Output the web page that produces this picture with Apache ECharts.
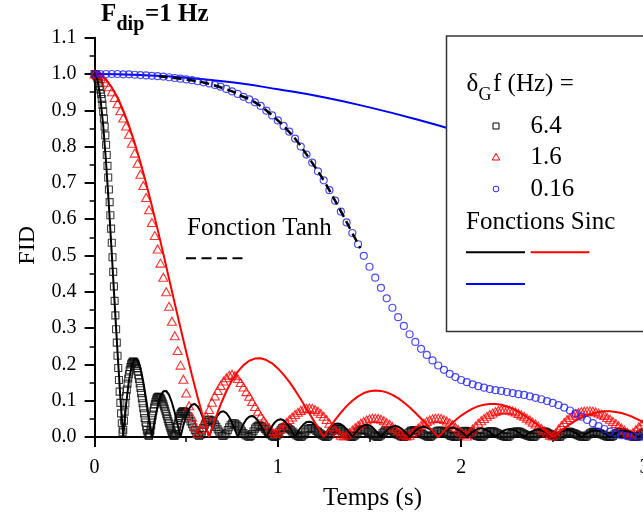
<!DOCTYPE html>
<html><head><meta charset="utf-8">
<script src="https://cdn.jsdelivr.net/npm/echarts@6/dist/echarts.min.js"></script>
<style>html,body{margin:0;padding:0;background:#fff}#c{width:643px;height:516px}</style>
</head><body><div id="c"></div>
<script>
// ---------- DATA ----------
const xTickLabels = ['0', '1', '2', '3'];
// black squares, dGf = 6.4 Hz : t = i/256 (0 .. 0.5 s)
const sq64Fine = [
1.000,.999,.997,.993,.988,.982,.975,.967,.957,.945,
.931,.915,.897,.877,.855,.831,.805,.777,.747,.715,
.682,.647,.611,.574,.535,.495,.455,.415,.375,.335,
.297,.260,.224,.190,.157,.125,.094,.065,.038,.013,
.020,.045,.070,.093,.113,.131,.147,.161,.173,.184,
.193,.200,.204,.207,.208,.207,.205,.201,.196,.189,
.181,.171,.160,.148,.135,.121,.107,.093,.079,.065,
.052,.040,.029,.019,.011,.005,.003,.008,.018,.032,
.046,.059,.071,.081,.090,.097,.103,.107,.110,.111,
.111,.110,.107,.104,.100,.095,.090,.084,.078,.071,
.064,.057,.050,.043,.037,.030,.024,.018,.013,.008,
.005,.003,.004,.008,.018,.028,.037,.045,.052,.058,
.063,.066,.069,.070,.071,.070,.069,.067,.064];
// black squares continued : t = 0.5 + (i+1)/128 (to 3 s)
const sq64Coarse = [
.058,.051,.043,.035,.027,.019,.012,.006,.003,.006,.015,.025,.034,.041,.046,.048,.047,.044,.040,.034,.028,.021,.015,.009,.004,.003,.007,
.010,.019,.027,.033,.037,.038,.037,.034,.030,.026,.021,.016,.011,.007,.004,.002,.000,.003,
.008,.016,.023,.028,.031,.032,.031,.029,.026,.022,.018,.013,.010,.006,.003,.001,.000,.003,
.007,.014,.020,.025,.027,.028,.027,.025,.022,.019,.015,.012,.008,.005,.003,.001,.000,.002,
.006,.013,.018,.022,.024,.025,.024,.023,.020,.017,.014,.011,.008,.005,.003,.001,.000,.002,
.006,.012,.017,.020,.022,.023,.022,.021,.018,.016,.013,.010,.007,.004,.002,.001,.000,.002,
.005,.011,.015,.018,.020,.021,.020,.019,.017,.014,.012,.009,.006,.004,.002,.001,.000,.002,
.005,.010,.014,.018,.019,.020,.019,.018,.016,.014,.011,.008,.006,.004,.002,.001,.000,.002,
.005,.010,.014,.017,.018,.019,.018,.017,.015,.013,.010,.008,.006,.004,.002,.001,.000,.002,
.005,.009,.013,.016,.017,.018,.017,.016,.014,.012,.010,.008,.005,.003,.002,.001,.000,.001,
.004,.009,.012,.015,.016,.017,.016,.015,.014,.012,.009,.007,.005,.003,.002,.001,.000,.001,
.004,.008,.012,.014,.016,.016,.016,.014,.013,.011,.009,.007,.005,.003,.002,.001,.000,.001,
.004,.008,.011,.013,.015,.015,.015,.014,.012,.010,.008,.006,.005,.003,.002,.001,.000,.001,
.004,.008,.011,.013,.015,.015,.015,.014,.012,.010,.008,.006,.005,.003,.002,.001,.000,.001,
.004,.007,.010,.012,.014,.014,.014,.013,.011,.010,.008,.006,.004,.003,.001,.001,.000,.001,
.004,.007,.010,.012,.014,.014,.014,.013,.011,.010,.008,.006,.004,.003,.001,.001,.000,.001,
.003,.007,.009,.011,.013,.013,.013,.012,.010,.009,.007,.005,.004,.002,.001,.001,.000,.001,
.003,.006,.009,.011,.012];
// red triangles, dGf = 1.6 Hz : t = i/64
const tri16 = [
1.000,.998,.994,.987,.977,.965,.951,.935,.918,.899,
.879,.857,.834,.809,.782,.754,.724,.693,.660,.626,
.591,.555,.518,.479,.440,.400,.360,.319,.279,.238,
.198,.159,.121,.086,.055,.030,.010,.020,.040,.057,
.076,.096,.113,.128,.142,.154,.163,.170,.173,.169,
.161,.150,.138,.125,.112,.098,.084,.071,.058,.046,
.035,.025,.016,.010,.012,.022,.031,.040,.048,.055,
.062,.068,.073,.077,.079,.080,.079,.076,.071,.065,
.057,.048,.038,.028,.019,.011,.005,.003,.006,.012,
.019,.026,.032,.038,.043,.047,.050,.052,.052,.051,
.049,.045,.040,.035,.029,.023,.017,.011,.006,.003,
.005,.011,.018,.025,.032,.038,.043,.047,.050,.052,
.052,.051,.048,.044,.039,.033,.027,.020,.013,.007,
.003,.013,.022,.030,.038,.045,.051,.057,.062,.066,
.070,.073,.075,.076,.075,.074,.072,.069,.065,.061,
.057,.052,.047,.041,.036,.030,.024,.017,.011,.005,
.003,.011,.022,.031,.040,.048,.054,.060,.064,.067,
.070,.071,.072,.072,.071,.069,.066,.063,.059,.054,
.049,.043,.037,.031,.025,.019,.013,.008,.012,.020,
.028,.035,.042];
// blue circles, dGf = 0.16 Hz : t = i/32
const circ016 = [
1.000,1.000,1.000,1.000,1.000,.999,.999,.998,.997,.996,
.995,.994,.993,.991,.989,.987,.985,.983,.980,.977,
.974,.970,.965,.959,.952,.945,.937,.930,.922,.912,
.899,.886,.872,.857,.841,.822,.800,.778,.756,.732,
.707,.680,.651,.621,.591,.562,.531,.499,.469,.439,
.411,.382,.356,.330,.306,.283,.262,.243,.226,.211,
.197,.185,.174,.165,.157,.151,.145,.140,.136,.132,
.129,.127,.124,.121,.118,.116,.112,.108,.104,.099,
.094,.088,.081,.073,.065,.056,.047,.038,.030,.022,
.015,.010,.005,.002,.001,.000,.000];
// Sinc curves
const sincBlack = [ // t = i/64
1,.984,.936,.858,.757,.637,.505,.368,.234,.109,
0,.089,.156,.198,.216,.212,.189,.152,.104,.052,
0,.047,.085,.112,.126,.127,.116,.095,.067,.034,
0,.032,.059,.078,.089,.091,.084,.070,.049,.025,
0,.024,.045,.060,.069,.071,.066,.055,.039,.020,
0,.019,.036,.049,.056,.058,.054,.045,.032,.017,
0,.016,.030,.041,.047,.049,.046,.038,.028,.014,
0,.014,.026,.035,.041,.042,.040,.033,.024,.013,
0,.012,.023,.031,.036,.037,.035,.030,.021,.011,
0,.011,.020,.028,.032,.034,.032,.027,.019,.010,
0,.010,.018,.025,.029,.030,.029,.024,.017,.009,
0,.009,.017,.023,.027,.028,.026,.022,.016,.008,
0,.008,.015,.021,.024,.026,.024,.020,.015,.008,
0,.008,.014,.019,.023,.024,.022,.019,.014,.007,
0,.007,.013,.018,.021,.022,.021,.018,.013,.007,
0,.007,.012,.017,.020,.021,.019,.016,.012,.006,
0,.006,.012,.016,.018,.019,.018,.015,.011,.006,
0,.006,.011,.015,.017,.018,.017,.015,.011,.006,
0,.005,.010,.014,.017,.017,.016,.014,.010,.005,
0,.005,.010];
const sincRed = [ // t = i/32
1,.996,.984,.963,.936,.900,.858,.810,.757,.699,
.637,.572,.505,.436,.368,.300,.234,.170,.109,.052,
0,.047,.089,.126,.156,.180,.198,.210,.216,.217,
.212,.203,.189,.172,.152,.129,.104,.078,.052,.026,
0,.024,.047,.067,.085,.100,.112,.121,.126,.128,
.127,.123,.116,.107,.095,.082,.067,.051,.034,.017,
0,.016,.032,.046,.059,.069,.078,.085,.089,.091,
.091,.089,.084,.078,.070,.060,.049,.038,.025,.013,
0,.012,.024,.035,.045,.053,.060,.065,.069,.071,
.071,.069,.066,.061,.055,.047,.039];
const sincBlue = [1,.997,.990,.977,.958,.936,.908,.876,.840,.800,.757,.711,.662]; // t = i/4
// Tanh function : t = 0.35 + 0.05 i
const tanhVals = [.994,.991,.988,.985,.981,.976,.969,.961,.952,.940,.929,.914,.894,.872,.847,.818,.783,.746,.707,.662,.616,.568,.520];

// ---------- CHART ----------
function pts(vals, t0, dt) { return vals.map(function (v, i) { return [t0 + i * dt, v]; }); }
const FF = '"Liberation Serif", "Times New Roman", serif';
const chart = echarts.init(document.getElementById('c'), null, { renderer: 'canvas' });

function txt(text, x, y, size, bold, color) {
  return { type: 'text', x: x, y: y, z: 120,
    style: { text: text, font: (bold ? 'bold ' : '') + size + 'px ' + FF, fill: color || '#000',
      textAlign: 'left', textVerticalAlign: 'middle', align: 'left', verticalAlign: 'middle' } };
}
function seg(x1, y1, x2, y2, color, dash) {
  return { type: 'line', z: 120, shape: { x1: x1, y1: y1, x2: x2, y2: y2 },
    style: { stroke: color, lineWidth: 2, lineDash: dash || null } };
}

const option = {
  animation: false,
  backgroundColor: '#fff',
  grid: { left: 94.6, top: 37.7, width: 549.8, height: 399.3, containLabel: false, outerBoundsMode: 'none' },
  xAxis: {
    type: 'value', min: 0, max: 3, interval: 1,
    axisLine: { show: true, onZero: false, lineStyle: { color: '#000', width: 2 } },
    axisTick: { show: true, inside: false, length: 10, lineStyle: { color: '#000', width: 2 } },
    minorTick: { show: true, splitNumber: 2, length: 5, lineStyle: { color: '#000', width: 1.5 } },
    splitLine: { show: false }, minorSplitLine: { show: false },
    axisLabel: { fontSize: 20, fontFamily: FF, color: '#000', margin: 21, showMaxLabel: true, showMinLabel: true,
      formatter: function (v) { return xTickLabels[Math.round(v)]; } },
    name: 'Temps (s)', nameLocation: 'middle', nameGap: 49,
    nameTextStyle: { fontSize: 25, fontFamily: FF, color: '#000', padding: [0, 0, 0, 6] }
  },
  yAxis: {
    type: 'value', min: 0, max: 1.1, interval: 0.1,
    axisLine: { show: true, onZero: false, lineStyle: { color: '#000', width: 2 } },
    axisTick: { show: true, inside: false, length: 10, lineStyle: { color: '#000', width: 2 } },
    minorTick: { show: true, splitNumber: 2, length: 5, lineStyle: { color: '#000', width: 1.5 } },
    splitLine: { show: false }, minorSplitLine: { show: false },
    axisLabel: { fontSize: 20, fontFamily: FF, color: '#000', margin: 18,
      formatter: function (v) { return v.toFixed(1); } },
    name: 'FID', nameLocation: 'middle', nameGap: 55, nameRotate: 90,
    nameTextStyle: { fontSize: 24, fontFamily: FF, color: '#000', padding: [0, 16, 0, 0] }
  },
  series: [
    { name: '6.4', type: 'scatter', symbol: 'rect', symbolSize: 7, z: 2,
      data: pts(sq64Fine, 0, 1 / 256).concat(pts(sq64Coarse, 0.5 + 1 / 128, 1 / 128)),
      itemStyle: { color: 'rgba(0,0,0,0)', borderColor: '#111', borderWidth: 1.1 }, emphasis: { disabled: true } },
    { name: '1.6', type: 'scatter', symbol: 'triangle', symbolSize: [9, 8], z: 3,
      data: pts(tri16, 0, 1 / 64),
      itemStyle: { color: 'rgba(0,0,0,0)', borderColor: '#ff0000', borderWidth: 1.1 }, emphasis: { disabled: true } },
    { name: 'Sinc 6.4', type: 'line', symbol: 'none', z: 4, data: pts(sincBlack, 0, 1 / 64),
      lineStyle: { color: '#000', width: 2 } },
    { name: 'Sinc 1.6', type: 'line', symbol: 'none', z: 4, data: pts(sincRed, 0, 1 / 32),
      lineStyle: { color: '#ff0000', width: 2 } },
    { name: 'Sinc 0.16', type: 'line', symbol: 'none', z: 4, smooth: true, data: pts(sincBlue, 0, 0.25),
      lineStyle: { color: '#0000ff', width: 2 } },
    { name: '0.16', type: 'scatter', symbol: 'circle', symbolSize: 7, z: 5,
      data: pts(circ016, 0, 1 / 32),
      itemStyle: { color: 'rgba(0,0,0,0)', borderColor: '#2020ff', borderWidth: 1.2 }, emphasis: { disabled: true } },
    { name: 'Tanh', type: 'line', symbol: 'none', z: 6, smooth: true, data: pts(tanhVals, 0.35, 0.05),
      lineStyle: { color: '#000', width: 2.5, type: [9, 5] } }
  ],
  graphic: { elements: [
    // title
    txt('F', 101, 14.5, 25, true),
    txt('dip', 116.5, 24.5, 20, true),
    txt('=1 Hz', 145, 14.5, 25, true),
    // Tanh annotation
    txt('Fonction Tanh', 187, 228, 25, false),
    seg(186, 258.3, 245, 258.3, '#000', [10, 5.5]),
    // legend box
    { type: 'rect', z: 110, shape: { x: 446.5, y: 36, width: 220, height: 295.5 },
      style: { fill: '#fff', stroke: '#333', lineWidth: 1.5 } },
    txt('\u03b4', 466.5, 84.5, 25, false),
    txt('G', 478.5, 95, 18, false),
    txt('f (Hz) =', 493, 84.5, 25, false),
    { type: 'rect', z: 120, shape: { x: 493, y: 123, width: 6, height: 6 },
      style: { fill: 'none', stroke: '#000', lineWidth: 1 } },
    txt('6.4', 530.5, 126.5, 25, false),
    { type: 'polygon', z: 120, shape: { points: [[496, 153.5], [492.2, 160], [499.8, 160]] },
      style: { fill: 'none', stroke: '#ff0000', lineWidth: 1 } },
    txt('1.6', 530.5, 157.5, 25, false),
    { type: 'circle', z: 120, shape: { cx: 496, cy: 189, r: 2.9 },
      style: { fill: 'none', stroke: '#2020ff', lineWidth: 1 } },
    txt('0.16', 530.5, 189, 25, false),
    txt('Fonctions Sinc', 466, 222, 25, false),
    seg(466, 252.3, 525, 252.3, '#000'),
    seg(530.7, 252.3, 589.3, 252.3, '#ff0000'),
    seg(466, 284, 525, 284, '#0000ff')
  ] }
};
chart.setOption(option);
</script>
</body></html>
